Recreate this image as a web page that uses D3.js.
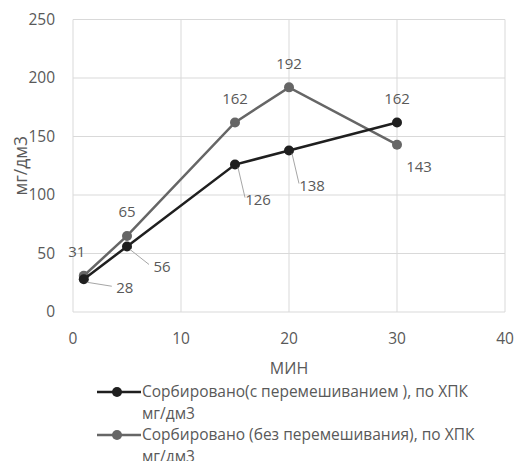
<!DOCTYPE html>
<html><head><meta charset="utf-8">
<script src="https://cdn.jsdelivr.net/npm/d3@7"></script>
<style>body{margin:0;background:#fff}svg{display:block}text{font-family:"Open Sans",sans-serif}</style>
</head><body><svg id="c" width="518" height="461"></svg>
<script>
const minutes = [1, 5, 15, 20, 30];
const withMixing = [28, 56, 126, 138, 162];
const withoutMixing = [31, 65, 162, 192, 143];
const seriesNames = ["Сорбировано(с перемешиванием ), по ХПК мг/дм3", "Сорбировано (без перемешивания), по ХПК мг/дм3"];
const xTicks = [0, 10, 20, 30, 40];
const yTicks = [0, 50, 100, 150, 200, 250];
const xTitle = "МИН";
const yTitle = "мг/дм3";

// label placement (style): [dx, dy, leader]
const place1 = [[41, 9, true], [35, 20, true], [23, 35, true], [23, 35, true], [0, -24, false]];
const place2 = [[-7, -24, false], [0, -24, false], [0, -24, false], [0, -24, false], [22, 22, false]];

const svg = d3.select("#c");
const x = d3.scaleLinear().domain([0, 40]).range([73, 505]);
const y = d3.scaleLinear().domain([0, 250]).range([312, 19.5]);
const grid = "#d9d9d9", txt = "#595959";

const g = svg.append("g");
g.selectAll(".hg").data(yTicks).join("line").attr("x1", x(0)).attr("x2", x(40))
  .attr("y1", d => y(d)).attr("y2", d => y(d)).attr("stroke", grid).attr("stroke-width", 1);
g.selectAll(".vg").data(xTicks).join("line").attr("y1", y(0)).attr("y2", y(250))
  .attr("x1", d => x(d)).attr("x2", d => x(d)).attr("stroke", grid).attr("stroke-width", 1);

g.selectAll(".yl").data(yTicks).join("text").attr("x", 55).attr("y", d => y(d)).attr("dy", "0.35em")
  .attr("text-anchor", "end").attr("fill", txt).attr("font-size", 15.5).text(d => d);
g.selectAll(".xl").data(xTicks).join("text").attr("x", d => x(d)).attr("y", 339).attr("dy", "0.35em")
  .attr("text-anchor", "middle").attr("fill", txt).attr("font-size", 15.5).text(d => d);

svg.append("text").attr("x", x(20)).attr("y", 368).attr("dy", "0.35em").attr("text-anchor", "middle")
  .attr("fill", txt).attr("font-size", 16).text(xTitle);
svg.append("text").attr("transform", `translate(21,${(y(0)+y(250))/2}) rotate(-90)`).attr("dy", "0.35em")
  .attr("text-anchor", "middle").attr("fill", txt).attr("font-size", 17.5).text(yTitle);

const series = [
  {vals: withMixing, color: "#1f1f1f", place: place1},
  {vals: withoutMixing, color: "#666666", place: place2}
];
const line = d3.line().x(d => x(d[0])).y(d => y(d[1]));
[series[1], series[0]].forEach(s => {
  const pts = minutes.map((m, i) => [m, s.vals[i]]);
  svg.append("path").datum(pts).attr("d", line).attr("fill", "none").attr("stroke", s.color).attr("stroke-width", 2.5);
  svg.selectAll(null).data(pts).join("circle").attr("cx", d => x(d[0])).attr("cy", d => y(d[1])).attr("r", 5).attr("fill", s.color);
});
series.forEach(s => {
  minutes.forEach((m, i) => {
    const [dx, dy, leader] = s.place[i];
    const px = x(m), py = y(s.vals[i]);
    if (leader) {
      const ex = px + dx - 13, ey = py + dy - 2;
      svg.append("path").attr("d", `M${px+3},${py+3} L${ex},${ey}`).attr("stroke", "#a6a6a6").attr("stroke-width", 1).attr("fill", "none");
    }
    svg.append("text").attr("x", px + dx).attr("y", py + dy).attr("dy", "0.35em").attr("text-anchor", "middle")
      .attr("fill", txt).attr("font-size", 15).text(s.vals[i]);
  });
});

const leg = svg.append("g");
const legY = [392, 435];
series.forEach((s, i) => {
  leg.append("line").attr("x1", 97).attr("x2", 141).attr("y1", legY[i]).attr("y2", legY[i]).attr("stroke", s.color).attr("stroke-width", 2.5);
  leg.append("circle").attr("cx", 117).attr("cy", legY[i]).attr("r", 5).attr("fill", s.color);
  const words = seriesNames[i].split(" ");
  const first = words.slice(0, -1).join(" "), last = words[words.length - 1];
  leg.append("text").attr("x", 142).attr("y", legY[i]).attr("dy", "0.35em").attr("fill", txt).attr("font-size", 15.5).text(first);
  leg.append("text").attr("x", 142).attr("y", legY[i] + 22).attr("dy", "0.35em").attr("fill", txt).attr("font-size", 15.5).text(last);
});
</script></body></html>
